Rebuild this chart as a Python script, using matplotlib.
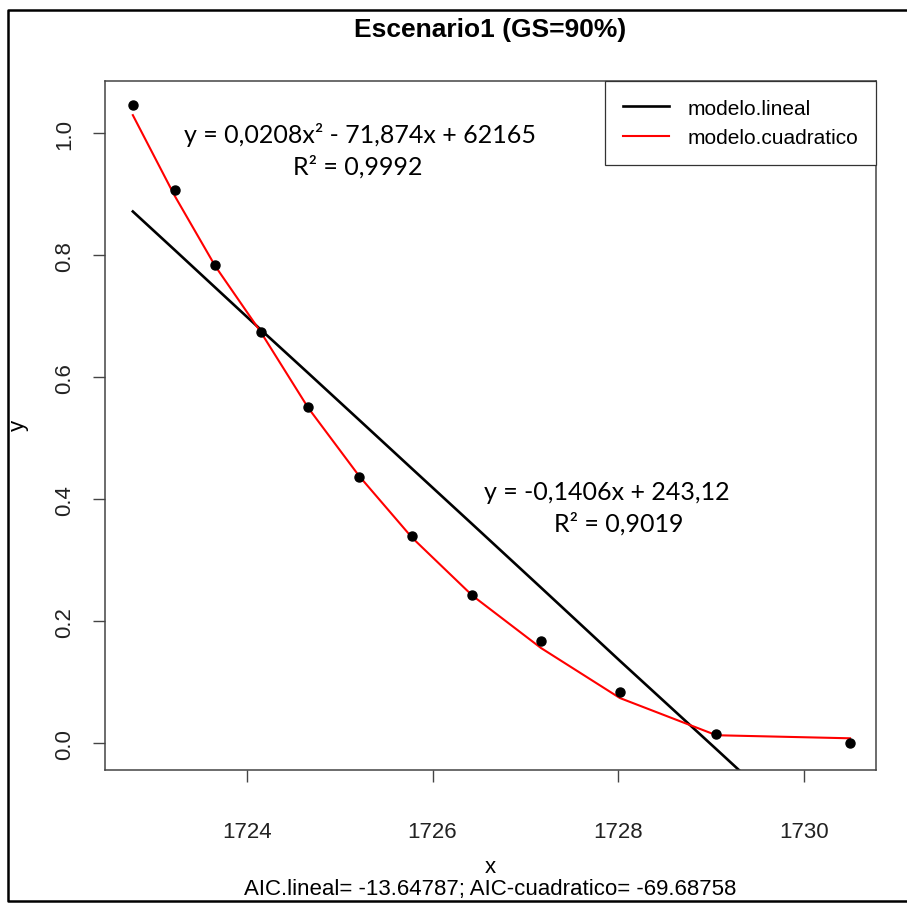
import matplotlib
matplotlib.use("Agg")
import matplotlib.pyplot as plt
from matplotlib.lines import Line2D

# Datos observados
x_obs = [1722.77, 1723.22, 1723.66, 1724.15, 1724.66, 1725.21,
         1725.78, 1726.43, 1727.17, 1728.02, 1729.06, 1730.50]
y_obs = [1.046, 0.907, 0.784, 0.674, 0.552, 0.436,
         0.339, 0.243, 0.167, 0.084, 0.015, 0.000]

# Valores ajustados
y_lineal = [0.872, 0.809, 0.747, 0.678, 0.607, 0.530,
            0.450, 0.359, 0.255, 0.135, -0.010, -0.212]
y_cuadratico = [1.030, 0.898, 0.782, 0.674, 0.550, 0.438,
                0.337, 0.242, 0.156, 0.074, 0.013, 0.008]

x_ticks = [1724, 1726, 1728, 1730]
y_ticks = [0.0, 0.2, 0.4, 0.6, 0.8, 1.0]

titulo = "Escenario1 (GS=90%)"
subtitulo = "AIC.lineal= -13.64787; AIC-cuadratico= -69.68758"
ec_cuad = "y = 0,0208x\u00b2 - 71,874x + 62165"
r2_cuad = "R\u00b2 = 0,9992"
ec_lin = "y = -0,1406x + 243,12"
r2_lin = "R\u00b2 = 0,9019"

plt.rcParams["font.family"] = ["Liberation Sans", "DejaVu Sans"]

W, H = 907, 904
fig = plt.figure(figsize=(W / 100, H / 100), dpi=100)
ax = fig.add_axes([105 / W, 1 - 771 / H, (876 - 105) / W, (771 - 82) / H])

# Marco exterior (izquierda, arriba, abajo)
marco_x = [907 / W, 8 / W, 8 / W, 907 / W]
marco_y = [1 - 11 / H, 1 - 11 / H, 1 - 902 / H, 1 - 902 / H]
fig.add_artist(Line2D(marco_x, marco_y, transform=fig.transFigure,
                      color="black", linewidth=1.8))

ax.plot(x_obs, y_lineal, color="black", linewidth=1.9, label="modelo.lineal")
ax.plot(x_obs, y_cuadratico, color="red", linewidth=1.5, label="modelo.cuadratico")
ax.plot(x_obs, y_obs, "o", color="black", markersize=6.5, zorder=3)

ax.set_xlim(1722.47, 1730.78)
ax.set_ylim(-0.044, 1.086)
ax.set_xticks(x_ticks)
ax.set_yticks(y_ticks)
ax.set_yticklabels([f"{v:.1f}" for v in y_ticks], rotation=90, va="center")
ax.tick_params(axis="x", length=8.5, width=1.0, color="#444444", pad=28,
               labelsize=16, labelcolor="#222222")
ax.tick_params(axis="y", length=8.5, width=1.0, color="#444444", pad=13,
               labelsize=16, labelcolor="#222222")
for s in ax.spines.values():
    s.set_color("#444444")
    s.set_linewidth(1.1)

leg = ax.legend(loc="upper right", fontsize=15, frameon=True, fancybox=False,
                edgecolor="#333333", framealpha=1, borderaxespad=0,
                handlelength=2.2, handletextpad=0.9, borderpad=0.85,
                labelspacing=0.5)
leg.get_frame().set_linewidth(0.9)

# Ecuaciones de tendencia (Excel)
ax.text(1725.22, 0.999, ec_cuad, family="Lato", fontsize=18, ha="center", va="center")
ax.text(1725.19, 0.946, r2_cuad, family="Lato", fontsize=18, ha="center", va="center")
ax.text(1727.88, 0.413, ec_lin, family="Lato", fontsize=18, ha="center", va="center")
ax.text(1728.01, 0.361, r2_lin, family="Lato", fontsize=18, ha="center", va="center")

fig.text(490 / W, 1 - 30 / H, titulo, fontsize=19, fontweight="bold",
         ha="center", va="center")
fig.text(490 / W, 1 - 868 / H, "x", fontsize=16, ha="center", va="center")
fig.text(18 / W, 1 - 425 / H, "y", fontsize=16, rotation=90, ha="center", va="center")
fig.text(490 / W, 1 - 890 / H, subtitulo, fontsize=16, ha="center", va="center")

fig.savefig("out.png", dpi=100)
